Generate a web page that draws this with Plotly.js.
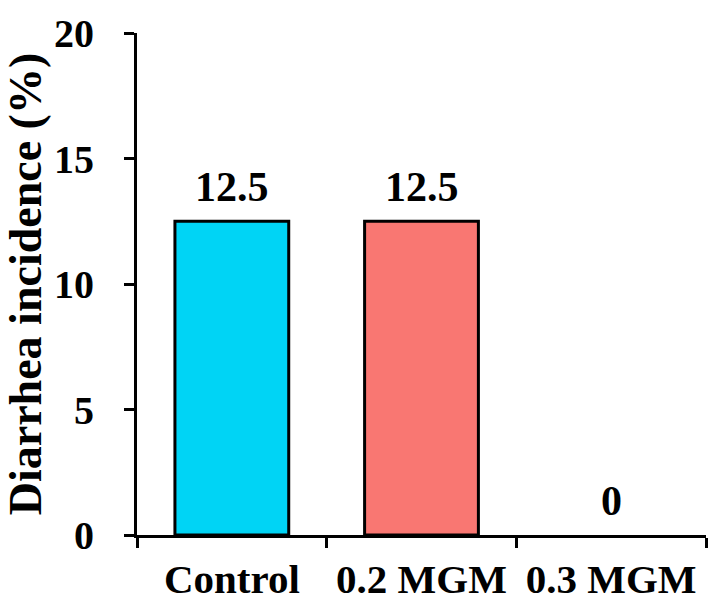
<!DOCTYPE html>
<html>
<head>
<meta charset="utf-8">
<script src="https://cdn.plot.ly/plotly-3.0.1.min.js"></script>
<style>html,body{margin:0;padding:0;background:#fff;}#chart{width:709px;height:601px;}</style>
</head>
<body>
<div id="chart"></div>
<script>
const categories = ["Control", "0.2 MGM", "0.3 MGM"];
const incidence = [12.5, 12.5, 0];
const valueLabels = ["12.5", "12.5", "0"];
const barColors = ["#00D4F5", "#F97772", "#FFFFFF"];
const yTicks = [0, 5, 10, 15, 20];

const FONT = "Liberation Serif, Times New Roman, serif";

const trace = {
  type: "bar",
  x: categories,
  y: incidence,
  cliponaxis: false,
  width: 0.6,
  marker: {color: barColors, line: {color: "#000", width: incidence.map(v => v > 0 ? 3 : 0)}},
  hoverinfo: "none"
};

const annotations = categories.map((c, i) => ({
  x: c, y: incidence[i], xref: "x", yref: "y",
  text: valueLabels[i], showarrow: false,
  yanchor: "bottom", yshift: 9,
  font: {family: FONT, size: 42, color: "#000", weight: "bold"}
}));

const layout = {
  width: 709, height: 601,
  margin: {l: 137, r: 3, t: 33, b: 66},
  paper_bgcolor: "#fff", plot_bgcolor: "#fff",
  showlegend: false,
  font: {family: FONT, color: "#000", weight: "bold"},
  annotations: annotations,
  xaxis: {
    type: "category",
    showline: true, linecolor: "#000", linewidth: 3,
    ticks: "outside", tickson: "boundaries", ticklen: 10, tickwidth: 3, tickcolor: "#000",
    ticklabelstandoff: 6,
    tickfont: {family: FONT, size: 41, color: "#000", weight: "bold"},
    showgrid: false, zeroline: false
  },
  yaxis: {
    range: [0, 20], tickvals: yTicks, ticktext: yTicks.map(String),
    showline: true, linecolor: "#000", linewidth: 3,
    ticks: "outside", ticklen: 10, tickwidth: 3, tickcolor: "#000",
    ticklabelstandoff: 22,
    tickfont: {family: FONT, size: 40, color: "#000", weight: "bold"},
    showgrid: false, zeroline: false,
    title: {text: "Diarrhea incidence (%)", font: {family: FONT, size: 46, color: "#000", weight: "bold"}, standoff: 8}
  },
  bargap: 0.4
};

Plotly.newPlot("chart", [trace], layout, {displayModeBar: false, staticPlot: true});
</script>
</body>
</html>
